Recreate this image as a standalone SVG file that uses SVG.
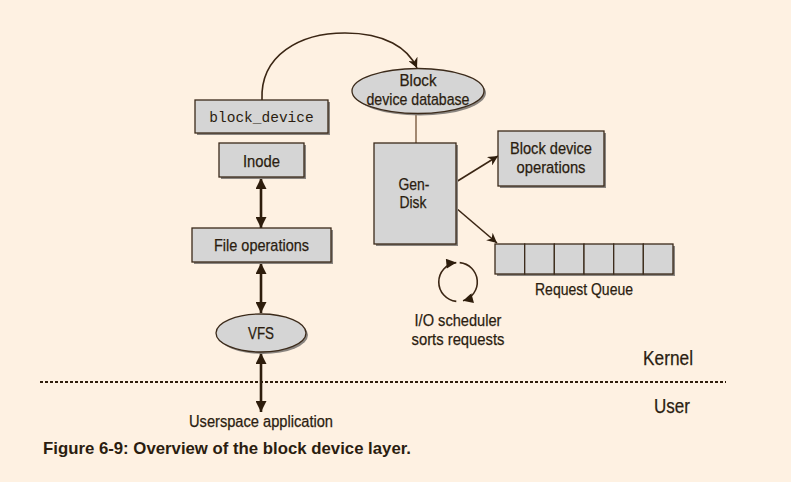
<svg xmlns="http://www.w3.org/2000/svg" width="791" height="482" viewBox="0 0 791 482">
<defs>
<style>
.box{fill:#d5d5d5;stroke:#3b2a1a;stroke-width:1.3}
.sh{fill:#8a8580}
.t{font-family:"Liberation Sans",Arial,sans-serif;font-size:17px;fill:#2b1d10;stroke:#2b1d10;stroke-width:0.25;text-anchor:middle}
.mono{font-family:"Liberation Mono",monospace;font-size:14.5px;fill:#2b1d10;text-anchor:middle}
.ln{fill:none;stroke:#3b2614;stroke-width:1.6}
.dbl{fill:none;stroke:#2e1d0c;stroke-width:2.6}
</style>
<marker id="ah2" viewBox="0 0 10 10" refX="10" refY="5" markerWidth="12" markerHeight="10" markerUnits="userSpaceOnUse" orient="auto-start-reverse">
<path d="M0,0 L10,5 L0,10 L3,5 Z" fill="#2e1d0c"/>
</marker>
<marker id="ah3" viewBox="0 0 10 10" refX="10" refY="5" markerWidth="13" markerHeight="11" markerUnits="userSpaceOnUse" orient="auto-start-reverse">
<path d="M0,0 L10,5 L0,10 Z" fill="#2e1d0c"/>
</marker>
<marker id="ah4" viewBox="0 0 10 10" refX="10" refY="5" markerWidth="12" markerHeight="10" markerUnits="userSpaceOnUse" orient="auto">
<path d="M0,0 L10,5 L0,10 Z" fill="#2e1d0c"/>
</marker>
</defs>
<rect width="791" height="482" fill="#fef1e2"/>

<g id="connectors">
<path class="ln" d="M262,100 C260,55 300,33 345,33 C385,33 408,48 417,68" marker-end="url(#ah2)"/>
<line x1="416" y1="114" x2="416" y2="143" stroke="#8b6f55" stroke-width="1.6"/>
<line class="ln" x1="456" y1="182" x2="498" y2="156" marker-end="url(#ah2)"/>
<line class="ln" x1="456" y1="208" x2="497" y2="243" marker-end="url(#ah2)"/>
<line class="dbl" x1="261" y1="178" x2="261" y2="228" marker-start="url(#ah3)" marker-end="url(#ah3)"/>
<line class="dbl" x1="261" y1="263" x2="261" y2="313" marker-start="url(#ah3)" marker-end="url(#ah3)"/>
<line class="dbl" x1="261" y1="353" x2="261" y2="412" marker-start="url(#ah3)" marker-end="url(#ah3)"/>
</g>

<g id="block_device">
<rect class="sh" x="197" y="102" width="133" height="33"/>
<rect class="box" x="195" y="100" width="133" height="33"/>
<text class="mono" x="261.5" y="121.5">block_device</text>
</g>

<g id="inode">
<rect class="sh" x="221" y="145" width="85" height="34"/>
<rect class="box" x="219" y="143" width="85" height="34"/>
<text class="t" x="261.5" y="166.5" textLength="37" lengthAdjust="spacingAndGlyphs">Inode</text>
</g>

<g id="file_operations">
<rect class="sh" x="194" y="230" width="139" height="34"/>
<rect class="box" x="192" y="228" width="139" height="34"/>
<text class="t" x="261.5" y="251" textLength="95" lengthAdjust="spacingAndGlyphs">File operations</text>
</g>

<g id="vfs">
<ellipse class="sh" cx="263" cy="335" rx="45" ry="19"/>
<ellipse class="box" cx="261" cy="333" rx="45" ry="19"/>
<text class="t" x="261" y="339" textLength="26" lengthAdjust="spacingAndGlyphs">VFS</text>
</g>

<g id="block_device_database">
<ellipse class="sh" cx="420" cy="93" rx="66" ry="22.5"/>
<ellipse class="box" cx="418" cy="91" rx="66" ry="22.5"/>
<text class="t" x="418" y="86" textLength="37" lengthAdjust="spacingAndGlyphs">Block</text>
<text class="t" x="418" y="105" textLength="103" lengthAdjust="spacingAndGlyphs">device database</text>
</g>

<g id="gendisk">
<rect class="sh" x="376" y="145" width="82" height="101"/>
<rect class="box" x="374" y="143" width="82" height="101"/>
<text class="t" x="414" y="190" textLength="31" lengthAdjust="spacingAndGlyphs">Gen-</text>
<text class="t" x="413" y="208" textLength="27" lengthAdjust="spacingAndGlyphs">Disk</text>
</g>

<g id="block_device_operations">
<rect class="sh" x="500" y="133" width="106" height="55"/>
<rect class="box" x="498" y="131" width="106" height="55"/>
<text class="t" x="551" y="153.5" textLength="82" lengthAdjust="spacingAndGlyphs">Block device</text>
<text class="t" x="551" y="172.5" textLength="69" lengthAdjust="spacingAndGlyphs">operations</text>
</g>

<g id="request_queue">
<rect class="sh" x="497" y="246" width="178" height="30"/>
<rect class="box" x="495" y="244" width="29.7" height="30"/>
<rect class="box" x="524.7" y="244" width="29.7" height="30"/>
<rect class="box" x="554.3" y="244" width="29.7" height="30"/>
<rect class="box" x="584" y="244" width="29.7" height="30"/>
<rect class="box" x="613.7" y="244" width="29.7" height="30"/>
<rect class="box" x="643.3" y="244" width="29.7" height="30"/>
<text class="t" x="584" y="295" textLength="98" lengthAdjust="spacingAndGlyphs">Request Queue</text>
</g>

<g id="io_scheduler">
<path class="ln" d="M456.3,301.4 A19.5,19.5 0 0 1 456.3,262.6" marker-end="url(#ah4)"/>
<path class="ln" d="M459.7,262.6 A19.5,19.5 0 0 1 463,300.8" marker-end="url(#ah4)"/>
<text class="t" x="458" y="326" textLength="87" lengthAdjust="spacingAndGlyphs">I/O scheduler</text>
<text class="t" x="458" y="344.5" textLength="93" lengthAdjust="spacingAndGlyphs">sorts requests</text>
</g>

<g id="boundary">
<line x1="40" y1="382" x2="726" y2="382" stroke="#2e1d0c" stroke-width="1.8" stroke-dasharray="3,2"/>
<text class="t" x="668" y="365" style="font-size:21px" textLength="50" lengthAdjust="spacingAndGlyphs">Kernel</text>
<text class="t" x="672" y="413" style="font-size:21px" textLength="36" lengthAdjust="spacingAndGlyphs">User</text>
</g>

<text class="t" x="261" y="427" style="font-size:16px" textLength="144" lengthAdjust="spacingAndGlyphs">Userspace application</text>
<text x="43" y="454" style="font-family:'Liberation Sans',Arial,sans-serif;font-size:17px;font-weight:bold;fill:#2b1d10" textLength="368" lengthAdjust="spacingAndGlyphs">Figure 6-9: Overview of the block device layer.</text>
</svg>
